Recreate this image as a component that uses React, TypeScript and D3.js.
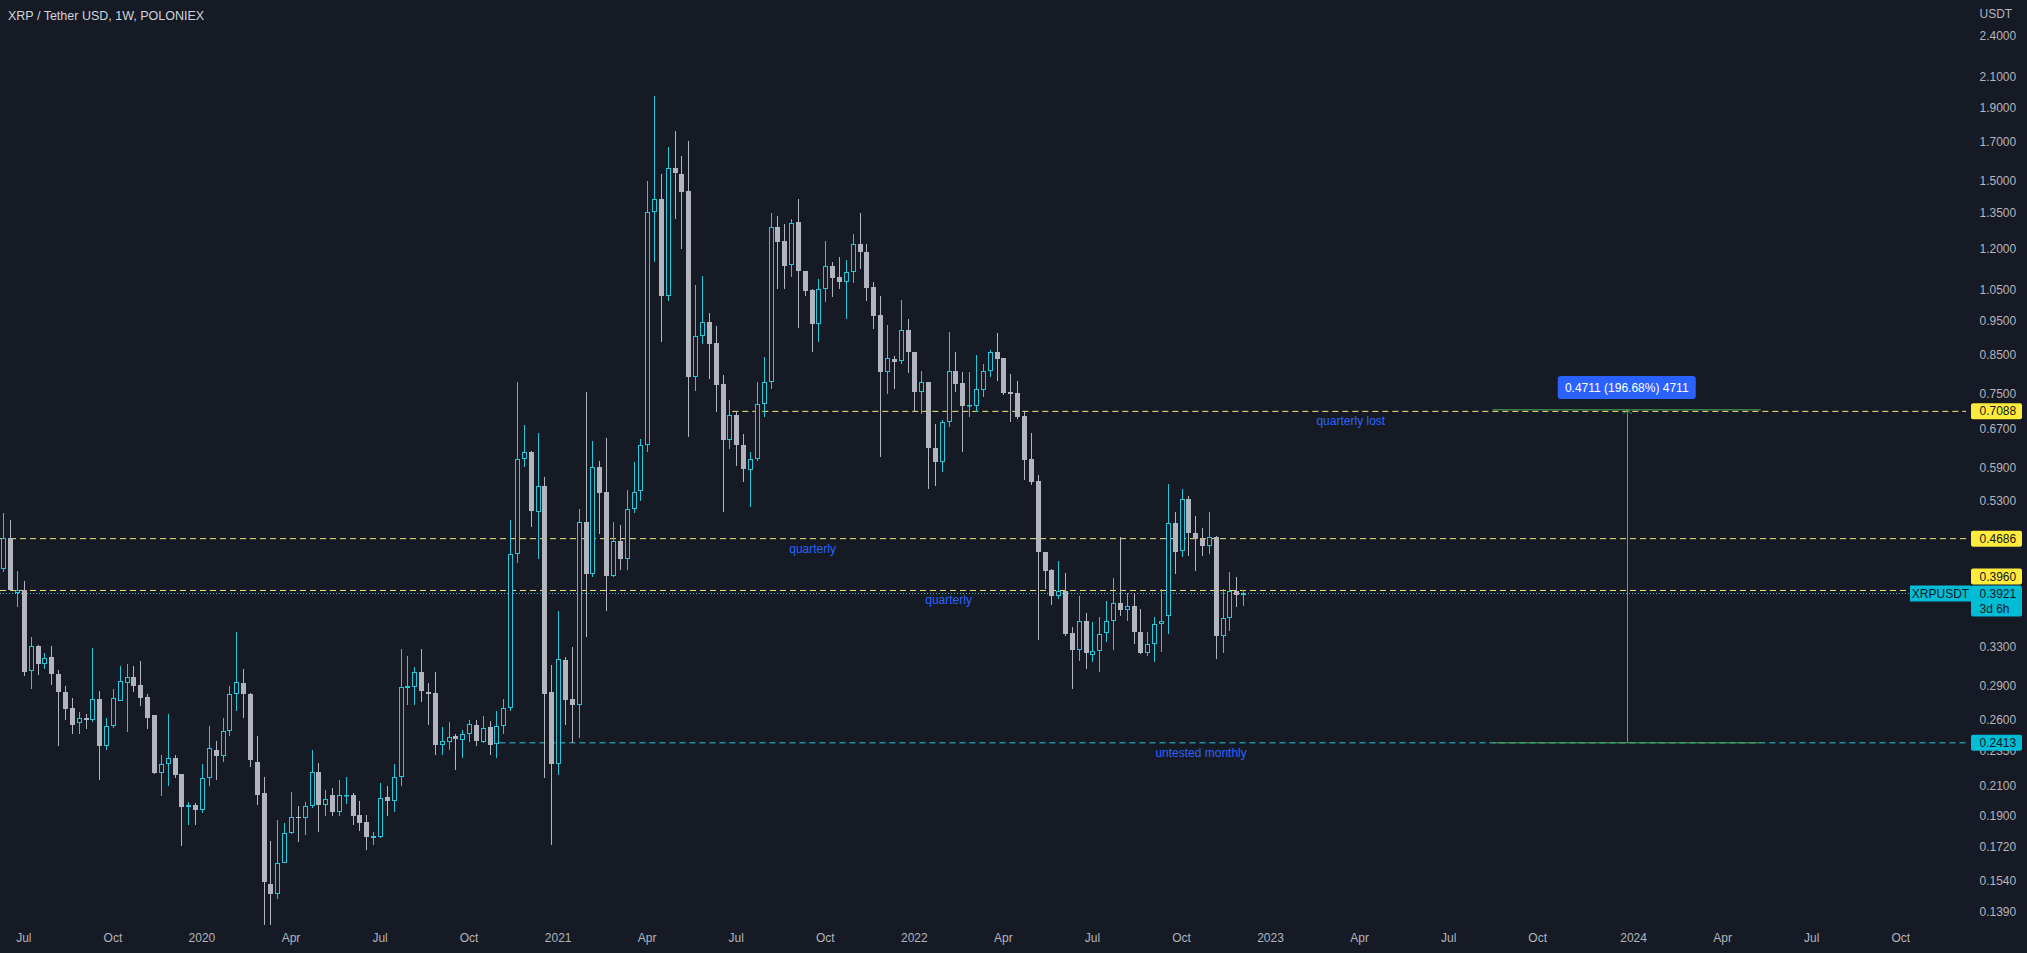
import React from 'react';
import * as d3 from 'd3';

const W = 2027;
const H = 953;
const PLOT_RIGHT = 1966;
const PLOT_BOTTOM = 920;
const DAY = 864e5;
const WEEK = 7 * DAY;
const START = Date.UTC(2019, 5, 10);

const title = 'XRP / Tether USD, 1W, POLONIEX';
const currency = 'USDT';
const symbol = 'XRPUSDT';
const countdown = '3d 6h';

const opens = [
  0.425, 0.470, 0.393, 0.396, 0.3045, 0.331, 0.312, 0.319, 0.302, 0.285,
  0.2705, 0.257, 0.262, 0.260, 0.278, 0.239, 0.255, 0.276, 0.293, 0.299,
  0.291, 0.280, 0.264, 0.219, 0.225, 0.230, 0.218, 0.196, 0.197, 0.194,
  0.215, 0.236, 0.231, 0.251, 0.283, 0.293, 0.283, 0.227, 0.2047, 0.1526,
  0.1474, 0.1634, 0.1798, 0.1896, 0.1892, 0.1964, 0.2196, 0.1971, 0.2035, 0.1929,
  0.2030, 0.2035, 0.1907, 0.1864, 0.1770, 0.1774, 0.2021, 0.1997, 0.2161, 0.2888,
  0.2894, 0.3042, 0.2848, 0.2838, 0.2399, 0.2421, 0.2468, 0.2434, 0.2482, 0.2556,
  0.2421, 0.2542, 0.2407, 0.2547, 0.2700, 0.4456, 0.6064, 0.6220, 0.5108, 0.5558,
  0.2848, 0.2251, 0.3160, 0.2781, 0.2731, 0.4946, 0.4183, 0.5923, 0.5460, 0.4149,
  0.4654, 0.4380, 0.5166, 0.5478, 0.6355, 1.3541, 1.4136, 1.0327, 1.5620, 1.5333,
  1.4493, 0.7919, 0.9065, 0.9467, 0.8851, 0.7747, 0.6464, 0.7003, 0.6362, 0.5858,
  0.6071, 0.7259, 0.7790, 1.2893, 1.2318, 1.1420, 1.3133, 1.1175, 1.0503, 0.9416,
  1.0550, 1.1358, 1.0960, 1.0807, 1.1138, 1.2212, 1.1886, 1.0608, 0.9694, 0.8046,
  0.8404, 0.8359, 0.9232, 0.8587, 0.7540, 0.7790, 0.6285, 0.6018, 0.6854, 0.8072,
  0.7764, 0.7206, 0.7222, 0.7599, 0.8075, 0.8600, 0.8422, 0.7540, 0.7524, 0.6974,
  0.6072, 0.5651, 0.4493, 0.4236, 0.3893, 0.3957, 0.3447, 0.3266, 0.3589, 0.3215,
  0.3257, 0.3443, 0.3589, 0.3802, 0.3716, 0.3769, 0.3456, 0.3229, 0.3327, 0.3551,
  0.3641, 0.4931, 0.4502, 0.5331, 0.4771, 0.4688, 0.4580, 0.4718, 0.3411, 0.3619,
  0.3957, 0.3906,
];
const highs = [
  0.510, 0.498, 0.422, 0.408, 0.340, 0.332, 0.323, 0.3305, 0.3055, 0.290,
  0.279, 0.267, 0.265, 0.328, 0.286, 0.262, 0.287, 0.310, 0.312, 0.310,
  0.315, 0.2825, 0.264, 0.232, 0.265, 0.2316, 0.2184, 0.199, 0.1986, 0.225,
  0.255, 0.2426, 0.262, 0.290, 0.346, 0.307, 0.284, 0.247, 0.2158, 0.1752,
  0.1875, 0.1861, 0.2056, 0.1964, 0.199, 0.2361, 0.2257, 0.207, 0.2086, 0.2136,
  0.2161, 0.2051, 0.1997, 0.1907, 0.1806, 0.2121, 0.2098, 0.2251, 0.3272, 0.3205,
  0.3088, 0.3272, 0.2927, 0.3042, 0.2542, 0.2584, 0.2482, 0.2512, 0.2600, 0.2600,
  0.2637, 0.2594, 0.2678, 0.2781, 0.4977, 0.7807, 0.6789, 0.6240, 0.6612, 0.5725,
  0.3112, 0.3704, 0.3186, 0.3298, 0.5166, 0.7537, 0.6440, 0.6027, 0.6500, 0.4946,
  0.4904, 0.5494, 0.6004, 0.6478, 1.501, 1.9744, 1.5333, 1.6722, 1.7654, 1.6275,
  1.7054, 1.0690, 1.1018, 0.9760, 0.9345, 0.7977, 0.7363, 0.7103, 0.6584, 0.6203,
  0.7790, 0.8448, 1.3507, 1.3392, 1.3033, 1.3249, 1.4136, 1.1200, 1.0550, 1.0901,
  1.2318, 1.1510, 1.1695, 1.1606, 1.2620, 1.3507, 1.2212, 1.0783, 1.0322, 0.9381,
  0.8494, 1.0191, 0.9571, 0.8587, 0.8090, 0.7790, 0.6802, 0.6899, 0.9185, 0.8606,
  0.8046, 0.8057, 0.8516, 0.8266, 0.8663, 0.9146, 0.8422, 0.8003, 0.7830, 0.7080,
  0.6602, 0.5764, 0.4493, 0.4251, 0.4362, 0.4191, 0.3512, 0.3885, 0.3680, 0.3578,
  0.3630, 0.3831, 0.4119, 0.4706, 0.3927, 0.3927, 0.3729, 0.3456, 0.3630, 0.3978,
  0.5594, 0.5104, 0.5508, 0.5388, 0.5047, 0.4846, 0.5115, 0.4729, 0.3978, 0.4200,
  0.4131, 0.3970,
];
const lows = [
  0.421, 0.395, 0.375, 0.300, 0.287, 0.3005, 0.307, 0.291, 0.239, 0.260,
  0.248, 0.248, 0.252, 0.258, 0.214, 0.236, 0.253, 0.276, 0.250, 0.285,
  0.272, 0.2526, 0.218, 0.203, 0.2095, 0.215, 0.1725, 0.185, 0.185, 0.192,
  0.210, 0.214, 0.2266, 0.247, 0.268, 0.262, 0.223, 0.197, 0.1336, 0.1336,
  0.145, 0.1631, 0.1792, 0.1748, 0.1786, 0.1953, 0.1806, 0.190, 0.1902, 0.1902,
  0.1981, 0.1847, 0.1811, 0.1704, 0.1733, 0.1772, 0.1902, 0.1925, 0.2098, 0.2725,
  0.2725, 0.2755, 0.2556, 0.2317, 0.2317, 0.2357, 0.2211, 0.2295, 0.2421, 0.2385,
  0.2413, 0.2317, 0.2295, 0.2482, 0.2678, 0.4332, 0.5923, 0.4872, 0.4382, 0.2149,
  0.1732, 0.2173, 0.2556, 0.2413, 0.2453, 0.3403, 0.4135, 0.4760, 0.3704, 0.4135,
  0.4233, 0.4233, 0.5100, 0.5303, 0.6218, 1.1510, 0.8870, 1.016, 1.3245, 1.2016,
  0.6513, 0.7581, 0.8825, 0.7876, 0.7083, 0.5103, 0.6272, 0.5941, 0.5627, 0.5188,
  0.6039, 0.6950, 0.7622, 1.0550, 1.0550, 1.0961, 0.9284, 1.0299, 0.8587, 0.8870,
  1.0104, 1.0265, 1.0550, 0.9570, 1.0748, 1.1259, 1.0160, 0.9265, 0.6104, 0.7498,
  0.7622, 0.8270, 0.8020, 0.7103, 0.7027, 0.5507, 0.5555, 0.5813, 0.6728, 0.7540,
  0.6203, 0.6950, 0.7065, 0.7419, 0.7917, 0.7830, 0.7474, 0.6840, 0.6913, 0.5676,
  0.5578, 0.3375, 0.3978, 0.3777, 0.3851, 0.3411, 0.2874, 0.3151, 0.3069, 0.3141,
  0.3034, 0.3344, 0.3266, 0.3641, 0.3589, 0.3327, 0.3222, 0.3204, 0.3141, 0.3237,
  0.3436, 0.4177, 0.4410, 0.4428, 0.4222, 0.4433, 0.4453, 0.3168, 0.3232, 0.3474,
  0.3749, 0.3761,
];
const closes = [
  0.470, 0.396, 0.396, 0.304, 0.331, 0.312, 0.318, 0.3015, 0.285, 0.269,
  0.256, 0.262, 0.260, 0.278, 0.239, 0.255, 0.279, 0.295, 0.299, 0.290,
  0.279, 0.262, 0.219, 0.225, 0.230, 0.217, 0.196, 0.197, 0.194, 0.215,
  0.237, 0.231, 0.251, 0.283, 0.294, 0.2825, 0.228, 0.2036, 0.1534, 0.1474,
  0.1634, 0.1798, 0.1898, 0.189, 0.1964, 0.2196, 0.1971, 0.2011, 0.1929, 0.2035,
  0.2039, 0.1902, 0.1862, 0.1774, 0.1780, 0.2016, 0.1997, 0.2161, 0.2894, 0.2901,
  0.3042, 0.2854, 0.2828, 0.2399, 0.2426, 0.2463, 0.2440, 0.2482, 0.2565, 0.2426,
  0.2533, 0.2399, 0.2547, 0.2700, 0.4456, 0.6064, 0.6220, 0.5126, 0.5558, 0.2831,
  0.2251, 0.3167, 0.2772, 0.2731, 0.4946, 0.4183, 0.5923, 0.5428, 0.4149, 0.4654,
  0.4380, 0.5166, 0.5460, 0.6355, 1.357, 1.4136, 1.0327, 1.5637, 1.5366, 1.4477,
  0.7919, 0.9065, 0.9467, 0.8825, 0.7731, 0.6464, 0.7003, 0.6355, 0.5877, 0.6071,
  0.7259, 0.7790, 1.2893, 1.2278, 1.1383, 1.3076, 1.1175, 1.0469, 0.9416, 1.0550,
  1.1358, 1.0925, 1.0807, 1.1138, 1.2212, 1.1886, 1.0573, 0.9673, 0.8046, 0.8422,
  0.8333, 0.9232, 0.8587, 0.7540, 0.7790, 0.6285, 0.6018, 0.6854, 0.8072, 0.7747,
  0.7220, 0.7238, 0.7624, 0.8075, 0.8600, 0.8403, 0.7524, 0.7498, 0.6951, 0.6058,
  0.5639, 0.4483, 0.4222, 0.3893, 0.3957, 0.3436, 0.3266, 0.3589, 0.3232, 0.3257,
  0.3436, 0.3581, 0.3802, 0.3716, 0.3769, 0.3456, 0.3229, 0.3327, 0.3551, 0.3581,
  0.4931, 0.4483, 0.5331, 0.4771, 0.4688, 0.4580, 0.4718, 0.3411, 0.3619, 0.3957,
  0.3906, 0.3921,
];

const priceTicks = [2.4, 2.1, 1.9, 1.7, 1.5, 1.35, 1.2, 1.05, 0.95, 0.85, 0.75, 0.67, 0.59, 0.53, 0.33, 0.29, 0.26, 0.235, 0.21, 0.19, 0.172, 0.154, 0.139];

const timeTickMonths = [
  '2019-07', '2019-10', '2020-01', '2020-04', '2020-07', '2020-10', '2021-01', '2021-04', '2021-07', '2021-10',
  '2022-01', '2022-04', '2022-07', '2022-10', '2023-01', '2023-04', '2023-07', '2023-10', '2024-01', '2024-04',
  '2024-07', '2024-10',
];
const timeTickLabels = [
  'Jul', 'Oct', '2020', 'Apr', 'Jul', 'Oct', '2021', 'Apr', 'Jul', 'Oct',
  '2022', 'Apr', 'Jul', 'Oct', '2023', 'Apr', 'Jul', 'Oct', '2024', 'Apr',
  'Jul', 'Oct',
];

// horizontal levels
const quarterlyLost = 0.7088;
const quarterlyLostFrom = '2021-06-24';
const quarterlyHigh = 0.4686;
const quarterlyLow = 0.396;
const untestedMonthly = 0.2413;
const untestedFrom = '2020-10-29';
const lastPrice = 0.3921;

// measure tool
const measureTop = 0.7124;
const measureBottom = 0.2413;
const measureFrom = '2023-08-10';
const measureTo = '2024-05-10';
const measureText = '0.4711 (196.68%) 4711';

// annotations
const noteTexts = ['quarterly lost', 'quarterly', 'quarterly', 'untested monthly'];
const noteDates = ['2023-03-18', '2021-09-14', '2022-01-31', '2022-10-16'];
const notePrices = [quarterlyLost, quarterlyHigh, quarterlyLow, untestedMonthly];

const BG = '#161a25';
const UP = '#26c6da';
const DOWN = '#b2b5be';
const LABEL_CYAN = '#00bcd4';
const YELLOW = '#ffeb3b';
const LINE_YELLOW = '#f7ea7a';
const TEXT = '#b2b5be';
const BLUE = '#2962ff';
const GREEN = '#4caf50';
const FONT = '"Liberation Sans", Arial, sans-serif';

const utc = (s: string) => {
  const [yy, mm, dd] = s.split('-').map(Number);
  return new Date(Date.UTC(yy, mm - 1, dd || 1));
};

export default function App() {
  const x = d3
    .scaleUtc()
    .domain([new Date(START), new Date(START + 290 * WEEK)])
    .range([3.3, 3.3 + 290 * 6.85]);
  const y = d3.scaleLog().domain([2.6997, 0.13565]).range([0, PLOT_BOTTOM]);

  const candles = opens.map((o, i) => {
    const h = highs[i];
    const l = lows[i];
    const c = closes[i];
    const cx = Math.round(x(new Date(START + i * WEEK)));
    const up = c >= o;
    const yO = y(o);
    const yC = y(c);
    const top = Math.round(Math.min(yO, yC));
    let bot = Math.round(Math.max(yO, yC));
    if (bot - top < 1) bot = top + 1;
    const yH = Math.round(y(h));
    const yL = Math.round(y(l));
    const col = up ? UP : DOWN;
    return (
      <g key={i}>
        {yH < top && <line x1={cx + 0.5} x2={cx + 0.5} y1={yH} y2={top} stroke={col} strokeWidth={1} />}
        {yL > bot && <line x1={cx + 0.5} x2={cx + 0.5} y1={bot} y2={yL} stroke={col} strokeWidth={1} />}
        {up ? (
          <rect x={cx - 1.5} y={top + 0.5} width={4} height={Math.max(bot - top - 1, 0.5)} fill={BG} stroke={col} strokeWidth={1} />
        ) : (
          <rect x={cx - 2} y={top} width={5} height={bot - top} fill={col} />
        )}
      </g>
    );
  });

  const fmt = (v: number) => v.toFixed(4);
  const yLost = y(quarterlyLost);
  const yHigh = y(quarterlyHigh);
  const yLow = y(quarterlyLow);
  const yUnt = y(untestedMonthly);
  const yLast = y(lastPrice);

  const timeTicks = timeTickMonths.map((m, i) => {
    const d = d3.utcMonday.floor(utc(m));
    return { x: x(d), label: timeTickLabels[i] };
  });

  const mx1 = x(utc(measureFrom));
  const mx2 = x(utc(measureTo));
  const mxc = (mx1 + mx2) / 2;
  const myTop = y(measureTop);
  const myBot = y(measureBottom);

  const boxX = 1971;
  const boxW = 51;
  const lastTop = Math.round(yLast) - 7.5;
  const lowBoxCenter = Math.min(yLow, lastTop - 1 - 8);

  const priceBox = (cy: number, text: string, bg: string, key: string) => (
    <g key={key}>
      <rect x={boxX} y={cy - 8} width={boxW} height={16} rx={2} fill={bg} />
      <text x={1979.5} y={cy + 4} fontSize={12} fill="#131722" fontFamily={FONT}>
        {text}
      </text>
    </g>
  );

  return (
    <>
      <style>{`html,body{margin:0;padding:0;background:${BG};overflow:hidden}`}</style>
      <svg width={W} height={H} style={{ display: 'block', background: BG }}>
        <rect x={0} y={0} width={W} height={H} fill={BG} />

        {/* horizontal levels */}
        <line x1={x(utc(quarterlyLostFrom))} x2={PLOT_RIGHT} y1={yLost} y2={yLost} stroke={LINE_YELLOW} strokeWidth={1} strokeDasharray="6 4" />
        <line x1={0} x2={PLOT_RIGHT} y1={yHigh} y2={yHigh} stroke={LINE_YELLOW} strokeWidth={1} strokeDasharray="6 4" />
        <line x1={0} x2={PLOT_RIGHT} y1={yLow} y2={yLow} stroke={LINE_YELLOW} strokeWidth={1} strokeDasharray="6 4" />
        <line x1={x(utc(untestedFrom))} x2={PLOT_RIGHT} y1={yUnt} y2={yUnt} stroke={UP} strokeWidth={1} strokeDasharray="6 4" />
        <line x1={0} x2={1910} y1={Math.round(yLast) + 0.5} y2={Math.round(yLast) + 0.5} stroke={UP} strokeWidth={1} strokeDasharray="1 2" />

        {/* candles */}
        <g>{candles}</g>

        {/* annotations */}
        {noteTexts.map((t, i) => (
          <text key={i} x={x(utc(noteDates[i]))} y={y(notePrices[i]) + 14} fontSize={12} fill={BLUE} textAnchor="middle" fontFamily={FONT}>
            {t}
          </text>
        ))}

        {/* measure tool */}
        <line x1={mx1} x2={mx2} y1={myTop} y2={myTop} stroke={GREEN} strokeWidth={1} />
        <line x1={mx1} x2={mx2} y1={myBot} y2={myBot} stroke={GREEN} strokeWidth={1} />
        <line x1={Math.round(mxc) + 0.5} x2={Math.round(mxc) + 0.5} y1={myTop} y2={myBot} stroke={GREEN} strokeWidth={1} />
        <path d={`M${Math.round(mxc) - 3.5},${myTop + 4} L${Math.round(mxc) + 0.5},${myTop} L${Math.round(mxc) + 4.5},${myTop + 4}`} fill="none" stroke={GREEN} strokeWidth={1} />
        <rect x={mxc - 69} y={376} width={138} height={23} rx={3} fill={BLUE} />
        <text x={mxc} y={392} fontSize={12} fill="#ffffff" textAnchor="middle" fontFamily={FONT}>
          {measureText}
        </text>

        {/* title */}
        <text x={8} y={20} fontSize={12.5} fill="#d1d4dc" fontFamily={FONT}>
          {title}
        </text>

        {/* price axis */}
        <text x={1979.5} y={18} fontSize={12} fill={TEXT} fontFamily={FONT}>
          {currency}
        </text>
        {priceTicks.map((p) => (
          <text key={p} x={1979.5} y={y(p) + 4} fontSize={12} fill={TEXT} fontFamily={FONT}>
            {fmt(p)}
          </text>
        ))}

        {priceBox(yLost, fmt(quarterlyLost), YELLOW, 'lost')}
        {priceBox(yHigh, fmt(quarterlyHigh), YELLOW, 'high')}
        {priceBox(lowBoxCenter, fmt(quarterlyLow), YELLOW, 'low')}
        {priceBox(yUnt, fmt(untestedMonthly), LABEL_CYAN, 'unt')}

        {/* last price */}
        <rect x={1910} y={lastTop} width={61} height={16} fill={LABEL_CYAN} />
        <text x={1940.5} y={lastTop + 12} fontSize={12} fill="#131722" textAnchor="middle" fontFamily={FONT}>
          {symbol}
        </text>
        <rect x={boxX} y={lastTop} width={boxW} height={31} rx={2} fill={LABEL_CYAN} />
        <text x={1979.5} y={lastTop + 12} fontSize={12} fill="#131722" fontFamily={FONT}>
          {fmt(lastPrice)}
        </text>
        <text x={1979.5} y={lastTop + 27} fontSize={12} fill="#131722" fontFamily={FONT}>
          {countdown}
        </text>

        {/* time axis */}
        {timeTicks.map((t, i) => (
          <text key={i} x={t.x} y={942} fontSize={12} fill={TEXT} textAnchor="middle" fontFamily={FONT}>
            {t.label}
          </text>
        ))}
      </svg>
    </>
  );
}
